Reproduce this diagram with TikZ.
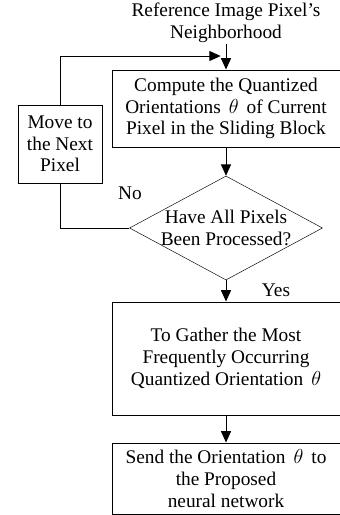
\documentclass[tikz,border=0pt]{standalone}
\usepackage{fontspec}
\setmainfont{Liberation Serif}
\usepackage{amsmath}
\usetikzlibrary{shapes.geometric,arrows.meta}

\begin{document}
\begin{tikzpicture}[
    font=\fontsize{16.5}{18.5}\selectfont,
    box/.style={draw, line width=0.8pt, align=center, inner sep=0pt},
    check/.style={draw, diamond, line width=0.4pt, inner sep=0pt,
      minimum width=5.79cm, minimum height=3.12cm},
    arr/.style={line width=0.8pt, -{Triangle[length=0.34cm,width=0.3cm]}},
    line/.style={line width=0.8pt}]
  \useasboundingbox (0,0) rectangle (10.2,-15.45);
  \node[align=center, inner sep=1pt] (input) at (6.78,-0.68) {Reference Image Pixel's\\Neighborhood};
  \node[box, minimum width=6.84cm, minimum height=2.31cm] (orient) at (6.78,-3.255)
    {Compute the Quantized\\Orientations \,$\theta$\, of Current\\Pixel in the Sliding Block};
  \node[box, minimum width=2.52cm, minimum height=2.34cm] (move) at (1.8,-4.32)
    {Move to\\the Next\\Pixel};
  \node[check] (done) at (6.78,-6.84) {};
  \node[align=center] (donetext) at (done.center) {Have All Pixels\\Been Processed?};
  \node[box, minimum width=6.84cm, minimum height=3.39cm] (gather) at (6.78,-10.755)
    {To Gather the Most\\Frequently Occurring\\Quantized Orientation \,$\theta$};
  \node[box, minimum width=6.84cm, minimum height=2.13cm] (send) at (6.78,-14.355)
    {Send the Orientation \,$\theta$\, to\\the Proposed\\neural network};
  \node (no) at (3.9,-5.79) {No};
  \node (yes) at (8.28,-8.7) {Yes};
  \coordinate (merge) at (6.62,-1.68);

  \draw[arr] (input) -- (orient);
  \draw[arr] (orient) -- (done);
  \draw[arr] (done) -- (gather);
  \draw[arr] (gather) -- (send);
  \draw[line] (done.west) -| (move.south);
  \draw[arr] (move.north) |- (merge);
\end{tikzpicture}
\end{document}
